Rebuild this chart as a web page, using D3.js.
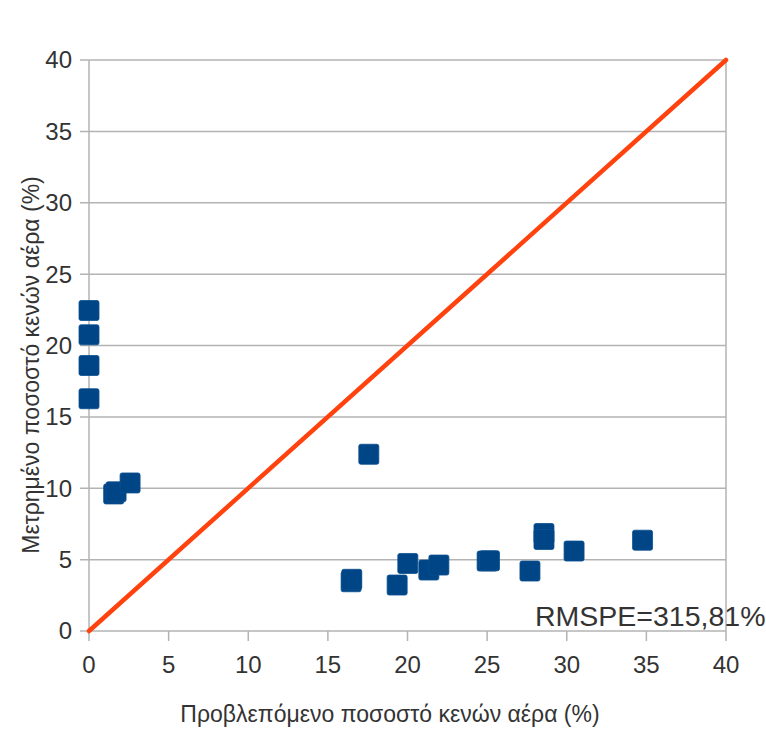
<!DOCTYPE html>
<html>
<head>
<meta charset="utf-8">
<script src="https://cdn.jsdelivr.net/npm/d3@7"></script>
<style>
  body { margin: 0; background: #fff; }
  svg text { font-family: "Liberation Sans", Arial, sans-serif; fill: #333; }
</style>
</head>
<body>
<div id="chart"></div>
<script>
// predicted vs measured air voids (%)
const predicted = [0, 0, 0, 0, 1.55, 1.7, 2.58, 16.46, 16.5, 17.57, 19.35, 20.02, 21.34, 21.97, 25.0, 25.15, 27.69, 28.57, 28.57, 30.46, 34.76];
const measured  = [22.45, 20.75, 18.6, 16.27, 9.6, 9.75, 10.37, 3.45, 3.62, 12.38, 3.22, 4.73, 4.27, 4.62, 4.9, 4.92, 4.2, 6.83, 6.41, 5.6, 6.36];
const ticks = [0, 5, 10, 15, 20, 25, 30, 35, 40];
const rmspeLabel = 'RMSPE=315,81%';

const width = 766, height = 731;
const margin = {top: 60, right: 40, bottom: 100, left: 89};

const svg = d3.select('#chart').append('svg')
    .attr('width', width)
    .attr('height', height);

const x = d3.scaleLinear().domain([0, 40]).range([margin.left, width - margin.right]);
const y = d3.scaleLinear().domain([0, 40]).range([height - margin.bottom, margin.top]);

// horizontal grid
svg.append('g')
    .selectAll('line')
    .data(ticks)
    .enter().append('line')
    .attr('x1', x(0) - 9)
    .attr('x2', x(40))
    .attr('y1', d => y(d))
    .attr('y2', d => y(d))
    .attr('stroke', '#b3b3b3')
    .attr('stroke-width', 1.5);

// x ticks
svg.append('g')
    .selectAll('line')
    .data(ticks)
    .enter().append('line')
    .attr('x1', d => x(d))
    .attr('x2', d => x(d))
    .attr('y1', y(0))
    .attr('y2', y(0) + 10)
    .attr('stroke', '#b3b3b3')
    .attr('stroke-width', 1.5);

// left axis and right border
svg.append('g')
    .selectAll('line')
    .data([0, 40])
    .enter().append('line')
    .attr('x1', d => x(d))
    .attr('x2', d => x(d))
    .attr('y1', y(40))
    .attr('y2', y(0))
    .attr('stroke', '#b3b3b3')
    .attr('stroke-width', 1.5);

// tick labels
svg.append('g')
    .selectAll('text')
    .data(ticks)
    .enter().append('text')
    .attr('x', d => x(d))
    .attr('y', y(0) + 42)
    .attr('text-anchor', 'middle')
    .attr('font-size', '24px')
    .text(d => d);

svg.append('g')
    .selectAll('text')
    .data(ticks)
    .enter().append('text')
    .attr('x', x(0) - 17)
    .attr('y', d => y(d))
    .attr('dy', '0.35em')
    .attr('text-anchor', 'end')
    .attr('font-size', '24px')
    .text(d => d);

// y = x reference line
svg.append('line')
    .attr('x1', x(0))
    .attr('y1', y(0))
    .attr('x2', x(40))
    .attr('y2', y(40))
    .attr('stroke', '#ff420e')
    .attr('stroke-width', 4.5)
    .attr('stroke-linecap', 'round');

// points
const sz = 20;
svg.append('g')
    .selectAll('rect')
    .data(predicted.map((p, i) => ({p: p, m: measured[i]})))
    .enter().append('rect')
    .attr('x', d => x(d.p) - sz / 2)
    .attr('y', d => y(d.m) - sz / 2)
    .attr('width', sz)
    .attr('height', sz)
    .attr('rx', 2)
    .attr('fill', '#004586')
    .attr('stroke', '#0a4f8f')
    .attr('stroke-width', 0.8);

// axis titles
svg.append('text')
    .attr('x', 390)
    .attr('y', 722)
    .attr('text-anchor', 'middle')
    .attr('font-size', '23px')
    .text('Προβλεπόμενο ποσοστό κενών αέρα (%)');

svg.append('text')
    .attr('transform', 'translate(39, 365) rotate(-90)')
    .attr('text-anchor', 'middle')
    .attr('font-size', '23px')
    .text('Μετρημένο ποσοστό κενών αέρα (%)');

// RMSPE annotation
svg.append('text')
    .attr('x', 535)
    .attr('y', 626)
    .attr('font-size', '28.5px')
    .text(rmspeLabel);
</script>
</body>
</html>
